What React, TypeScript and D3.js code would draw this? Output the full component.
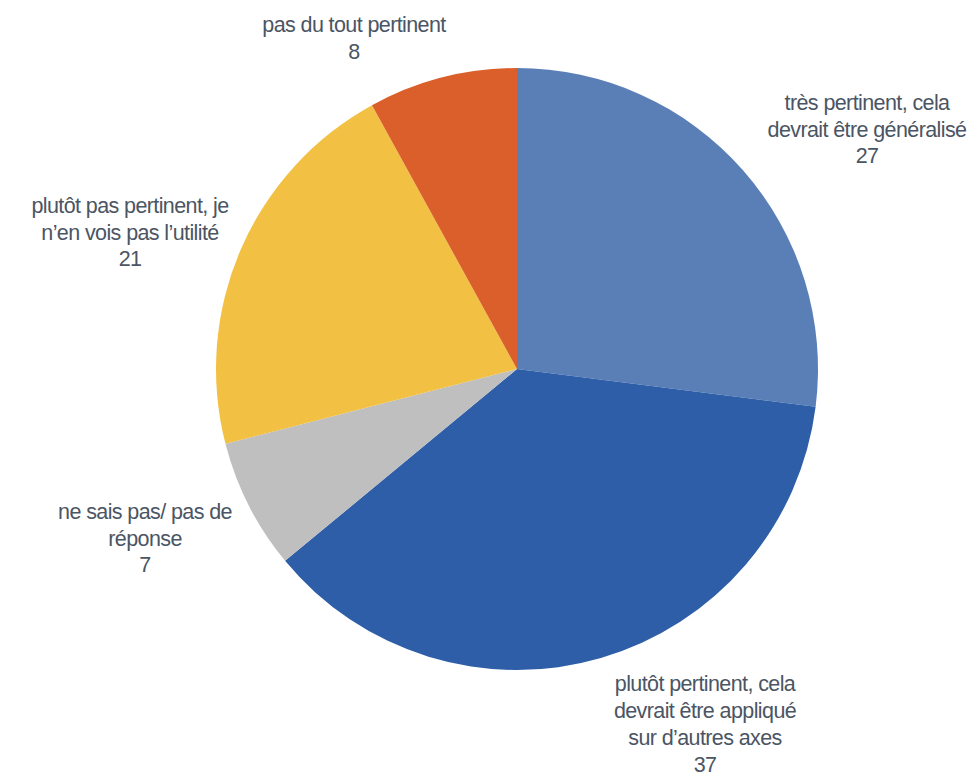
import React from 'react';
import * as d3 from 'd3';

const categories = [
  'très pertinent, cela devrait être généralisé',
  'plutôt pertinent, cela devrait être appliqué sur d\u2019autres axes',
  'ne sais pas/ pas de réponse',
  'plutôt pas pertinent, je n\u2019en vois pas l\u2019utilité',
  'pas du tout pertinent',
];
const values = [27, 37, 7, 21, 8];
// label text broken into lines the way the reference wraps them
const labelLines = [
  ['très pertinent, cela', 'devrait être généralisé'],
  ['plutôt pertinent, cela', 'devrait être appliqué', 'sur d\u2019autres axes'],
  ['ne sais pas/ pas de', 'réponse'],
  ['plutôt pas pertinent, je', 'n\u2019en vois pas l\u2019utilité'],
  ['pas du tout pertinent'],
];
const colors = ['#5a7fb7', '#2d5ea7', '#bfbfbf', '#f2c043', '#db5f2b'];

// layout: label block centres (offset from pie centre)
const labelPos: [number, number][] = [
  [350, -240],
  [188, 355],
  [-372, 169],
  [-387, -137],
  [-163, -331],
];

const W = 972;
const H = 773;
const cx = 517;
const cy = 369;
const R = 301;
const lineH = 26.8;

export default function App() {
  const pie = d3.pie<number>().sort(null).value(d => d);
  const arcs = pie(values);
  const arc = d3.arc<d3.PieArcDatum<number>>().innerRadius(0).outerRadius(R);

  return (
    <svg width={W} height={H} style={{ position: 'absolute', left: 0, top: 0 }}>
      <rect width={W} height={H} fill="#ffffff" />
      <g transform={`translate(${cx},${cy})`}>
        {arcs.map((a, i) => (
          <path key={categories[i]} d={arc(a) || ''} fill={colors[i]} />
        ))}
        {arcs.map((a, i) => {
          const lines = [...labelLines[i], String(values[i])];
          const [lx, ly] = labelPos[i];
          const top = ly - ((lines.length - 1) * lineH) / 2;
          return (
            <text
              key={'l' + i}
              x={lx}
              textAnchor="middle"
              fontFamily="'Liberation Sans', Arial, sans-serif"
              fontSize={21.5}
              letterSpacing={-0.6}
              fill="#4b5563"
            >
              {lines.map((t, j) => (
                <tspan key={j} x={lx} y={top + j * lineH} dy="0.35em">
                  {t}
                </tspan>
              ))}
            </text>
          );
        })}
      </g>
    </svg>
  );
}
